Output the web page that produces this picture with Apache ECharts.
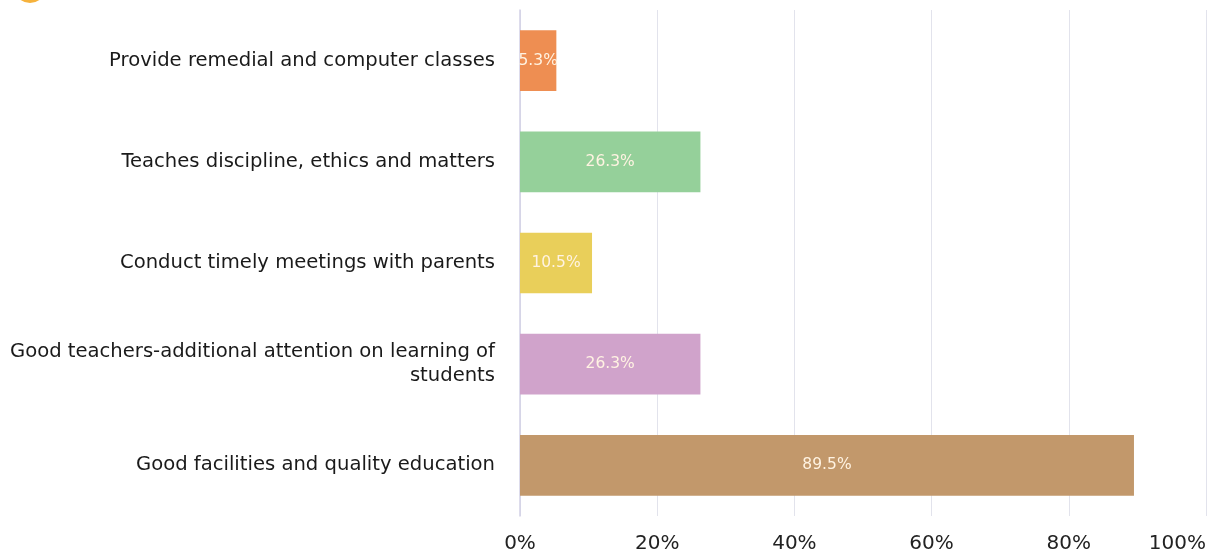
<!DOCTYPE html>
<html>
<head>
<meta charset="utf-8">
<script src="https://cdn.jsdelivr.net/npm/echarts@6/dist/echarts.min.js"></script>
<style>html,body{margin:0;padding:0;background:#fff}#c{width:1207px;height:553px}</style>
</head>
<body>
<div id="c"></div>
<script>
const categories = [
  "Provide remedial and computer classes",
  "Teaches discipline, ethics and matters",
  "Conduct timely meetings with parents",
  "Good teachers-additional attention on learning of\nstudents",
  "Good facilities and quality education"
];
const values = [5.3, 26.3, 10.5, 26.3, 89.5];
const colors = ["#EE8E52", "#95D09A", "#E9CF5A", "#D0A3CB", "#C2986B"];
const tickValues = [0, 20, 40, 60, 80, 100];

const chart = echarts.init(document.getElementById('c'), null, {renderer: 'canvas'});
chart.setOption({
  animation: false,
  backgroundColor: '#ffffff',
  graphic: [{type: 'circle', shape: {cx: 30, cy: -13, r: 16}, style: {fill: '#F6B23C'}}],
  grid: {left: 520, right: 1, top: 10, bottom: 37, containLabel: false, outerBoundsMode: 'none'},
  xAxis: {
    type: 'value', min: 0, max: 100, interval: 20,
    axisLine: {show: false}, axisTick: {show: false},
    splitLine: {show: true, lineStyle: {color: '#E2E3EC', width: 1}},
    axisLabel: {formatter: v => v + '%', fontFamily: 'DejaVu Sans', fontSize: 20, color: '#222', margin: 18, hideOverlap: false, alignMaxLabel: 'right'}
  },
  yAxis: {
    type: 'category', data: categories, inverse: true,
    axisLine: {show: true, lineStyle: {color: '#D2D0E6', width: 1.5}},
    axisTick: {show: false},
    axisLabel: {fontFamily: 'DejaVu Sans', fontSize: 19.6, color: '#1a1a1a', margin: 25, lineHeight: 24, align: 'right'}
  },
  series: [{
    type: 'bar',
    barWidth: '60%',
    data: values.map((v, i) => ({value: v, itemStyle: {color: colors[i]}})),
    label: {show: true, position: 'inside', formatter: p => p.value + '%', color: '#FFF3E2', fontFamily: 'DejaVu Sans', fontSize: 15.5}
  }]
});
</script>
</body>
</html>
